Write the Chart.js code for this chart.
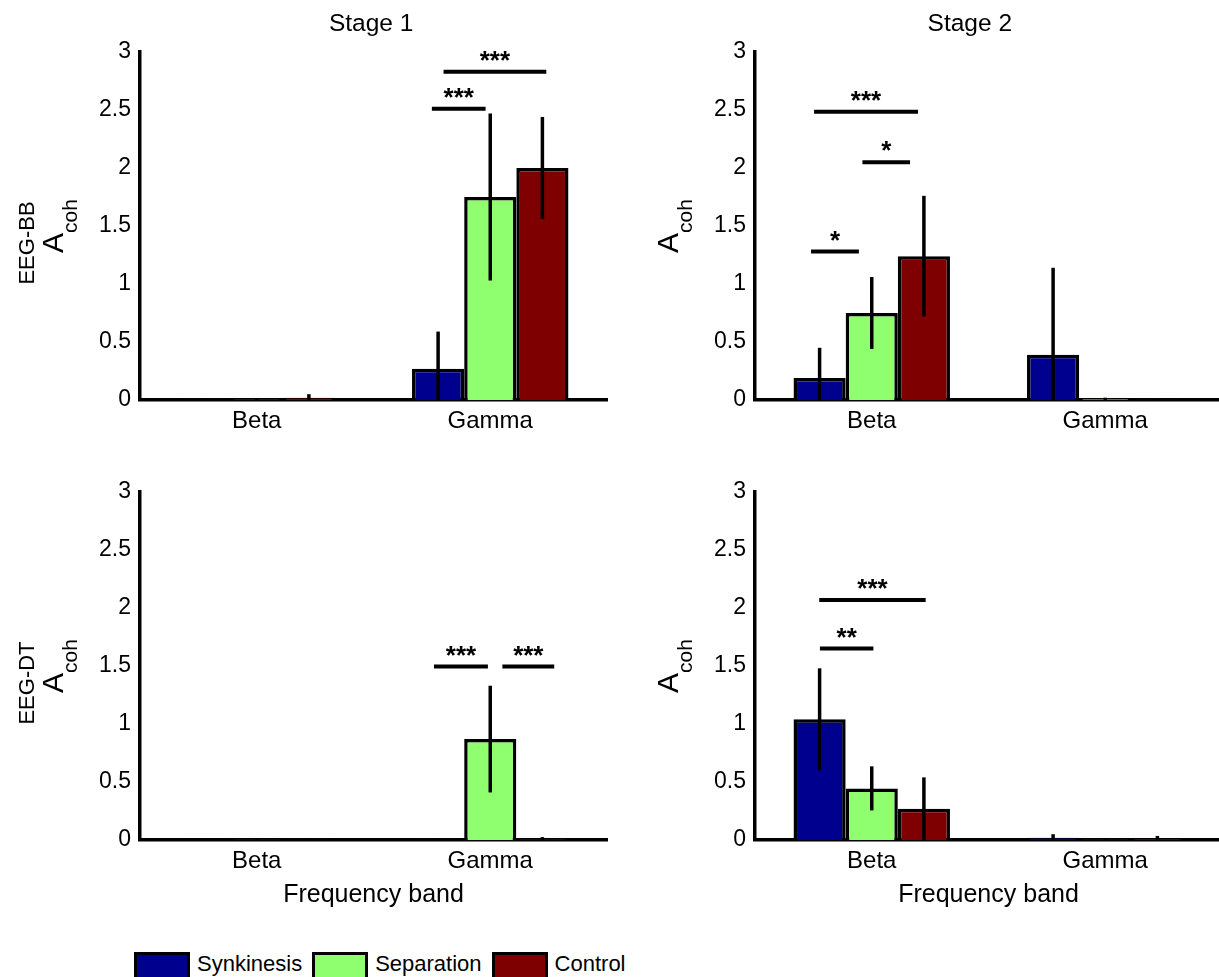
<!DOCTYPE html>
<html>
<head>
<meta charset="utf-8">
<title>Acoh by frequency band</title>
<script src="https://cdn.jsdelivr.net/npm/chart.js@4.4.1/dist/chart.umd.min.js"></script>
<style>
  html, body { margin: 0; padding: 0; background: #fff; }
  #page { position: relative; width: 1219px; height: 977px; overflow: hidden; font-family: 'Liberation Sans', Arial, sans-serif; }
  #page canvas { position: absolute; }
  #legend { position: absolute; left: 134px; top: 952px; display: flex; align-items: flex-start; }
  #legend .box { width: 50px; height: 26px; border: 3px solid #000; }
  #legend .txt { font-size: 22px; line-height: 22px; margin: 1px 10px 0 7px; color: #000; }
</style>
</head>
<body>
<div id="page">
  <canvas id="c1" width="620" height="470" style="left:0;top:0"></canvas>
  <canvas id="c2" width="620" height="470" style="left:615px;top:0"></canvas>
  <canvas id="c3" width="620" height="470" style="left:0;top:440px"></canvas>
  <canvas id="c4" width="620" height="470" style="left:615px;top:440px"></canvas>
  <div id="legend"></div>
</div>
<script>
const FONT = "'Liberation Sans', Arial, sans-serif";

const categories = ['Beta', 'Gamma'];
const groupNames = ['Synkinesis', 'Separation', 'Control'];
const groupColors = ['#00008f', '#8fff70', '#7f0000'];
const yTickValues = [0, 0.5, 1, 1.5, 2, 2.5, 3];

// Stage 1, EEG-BB
const s1bbSynkinesis = [0.005, 0.27];
const s1bbSeparation = [0.005, 1.75];
const s1bbControl = [0.02, 2.00];
const s1bbSynkinesisErr = [0.005, 0.32];
const s1bbSeparationErr = [0.005, 0.72];
const s1bbControlErr = [0.03, 0.44];
// [from, to, height, stars] - from/to in category units
const s1bbSig = [[0.75, 0.98, 2.51, '***'], [0.80, 1.24, 2.83, '***']];

// Stage 2, EEG-BB
const s2bbSynkinesis = [0.19, 0.39];
const s2bbSeparation = [0.75, 0.01];
const s2bbControl = [1.24, 0.005];
const s2bbSynkinesisErr = [0.26, 0.75];
const s2bbSeparationErr = [0.31, 0.01];
const s2bbControlErr = [0.52, 0.005];
const s2bbSig = [[-0.26, -0.055, 1.28, '*'], [-0.04, 0.164, 2.05, '*'], [-0.247, 0.198, 2.485, '***']];

// Stage 1, EEG-DT
const s1dtSynkinesis = [0.003, 0.005];
const s1dtSeparation = [0.003, 0.87];
const s1dtControl = [0.003, 0.01];
const s1dtSynkinesisErr = [0.003, 0.005];
const s1dtSeparationErr = [0.012, 0.46];
const s1dtControlErr = [0.003, 0.015];
const s1dtSig = [[0.759, 0.99, 1.495, '***'], [1.052, 1.274, 1.495, '***']];

// Stage 2, EEG-DT
const s2dtSynkinesis = [1.04, 0.02];
const s2dtSeparation = [0.445, 0.003];
const s2dtControl = [0.27, 0.015];
const s2dtSynkinesisErr = [0.44, 0.03];
const s2dtSeparationErr = [0.19, 0.003];
const s2dtControlErr = [0.27, 0.02];
const s2dtSig = [[-0.222, 0.007, 1.65, '**'], [-0.225, 0.231, 2.07, '***']];

const panels = [
  { id: 'c1', title: 'Stage 1', titleAt: 0.49, row: 'EEG-BB', xTitle: false,
    means: [s1bbSynkinesis, s1bbSeparation, s1bbControl],
    errs: [s1bbSynkinesisErr, s1bbSeparationErr, s1bbControlErr], sig: s1bbSig },
  { id: 'c2', title: 'Stage 2', titleAt: 0.42, row: null, xTitle: false,
    means: [s2bbSynkinesis, s2bbSeparation, s2bbControl],
    errs: [s2bbSynkinesisErr, s2bbSeparationErr, s2bbControlErr], sig: s2bbSig },
  { id: 'c3', title: null, row: 'EEG-DT', xTitle: true,
    means: [s1dtSynkinesis, s1dtSeparation, s1dtControl],
    errs: [s1dtSynkinesisErr, s1dtSeparationErr, s1dtControlErr], sig: s1dtSig },
  { id: 'c4', title: null, row: null, xTitle: true,
    means: [s2dtSynkinesis, s2dtSeparation, s2dtControl],
    errs: [s2dtSynkinesisErr, s2dtSeparationErr, s2dtControlErr], sig: s2dtSig }
];

// error bars, significance bars and the extra labels
function makeExtras(p) {
  return {
    id: 'extras',
    afterDatasetsDraw(chart) {
      const { ctx, chartArea: a, scales: { x, y } } = chart;
      ctx.save();
      ctx.beginPath();
      ctx.rect(a.left, 0, a.right - a.left, a.bottom);
      ctx.clip();
      ctx.strokeStyle = '#000';
      ctx.lineWidth = 3.5;
      p.errs.forEach((errs, i) => {
        const meta = chart.getDatasetMeta(i);
        errs.forEach((e, j) => {
          const v = p.means[i][j];
          const bx = meta.data[j].x;
          ctx.beginPath();
          ctx.moveTo(bx, Math.min(y.getPixelForValue(v - e), a.bottom));
          ctx.lineTo(bx, y.getPixelForValue(v + e));
          ctx.stroke();
        });
      });
      ctx.restore();

      ctx.save();
      ctx.strokeStyle = '#000';
      ctx.fillStyle = '#000';
      ctx.lineWidth = 4;
      ctx.textAlign = 'center';
      ctx.textBaseline = 'alphabetic';
      ctx.font = 'bold 26px ' + FONT;
      p.sig.forEach(([from, to, val, stars]) => {
        const x1 = x.getPixelForValue(from);
        const x2 = x.getPixelForValue(to);
        const py = y.getPixelForValue(val);
        ctx.beginPath();
        ctx.moveTo(x1, py);
        ctx.lineTo(x2, py);
        ctx.stroke();
        ctx.fillText(stars, (x1 + x2) / 2, py - 3);
      });
      ctx.restore();
    },
    afterDraw(chart) {
      const { ctx, chartArea: a, scales: { x } } = chart;
      const cy = (a.top + a.bottom) / 2;
      ctx.save();
      ctx.fillStyle = '#000';
      // y label: A with subscript coh
      ctx.save();
      ctx.translate(a.left - 77, cy);
      ctx.rotate(-Math.PI / 2);
      ctx.textAlign = 'left';
      ctx.textBaseline = 'alphabetic';
      ctx.font = '30px ' + FONT;
      const wA = ctx.measureText('A').width;
      ctx.font = '21px ' + FONT;
      const wS = ctx.measureText('coh').width;
      const sx = -(wA + wS) / 2;
      ctx.font = '30px ' + FONT;
      ctx.fillText('A', sx, 0);
      ctx.font = '21px ' + FONT;
      ctx.fillText('coh', sx + wA, 14);
      ctx.restore();
      // row label
      if (p.row) {
        ctx.save();
        ctx.translate(a.left - 106, cy + 17);
        ctx.rotate(-Math.PI / 2);
        ctx.textAlign = 'center';
        ctx.textBaseline = 'alphabetic';
        ctx.font = '22px ' + FONT;
        ctx.fillText(p.row, 0, 0);
        ctx.restore();
      }
      // column title
      if (p.title) {
        ctx.textAlign = 'center';
        ctx.textBaseline = 'alphabetic';
        ctx.font = '24.5px ' + FONT;
        ctx.fillText(p.title, x.getPixelForValue(p.titleAt), 31);
      }
      ctx.restore();
    }
  };
}

panels.forEach(p => {
  new Chart(document.getElementById(p.id), {
    type: 'bar',
    data: {
      labels: categories,
      datasets: groupNames.map((name, i) => ({
        label: name,
        data: p.means[i],
        backgroundColor: groupColors[i],
        borderColor: '#000',
        borderWidth: 3.5,
        categoryPercentage: 0.67,
        barPercentage: 1.0
      }))
    },
    options: {
      responsive: false,
      animation: false,
      layout: { padding: { left: 0, right: 13, top: 52, bottom: 0 } },
      plugins: { legend: { display: false }, tooltip: { enabled: false } },
      scales: {
        x: {
          grid: { display: false, drawTicks: false },
          border: { display: true, color: '#000', width: 3.5 },
          ticks: { color: '#000', padding: 7, font: { family: FONT, size: 24 } },
          title: { display: p.xTitle, text: 'Frequency band', color: '#000',
                   font: { family: FONT, size: 25 }, padding: { top: 0, bottom: 0 } },
          afterFit: s => { s.height = 70; }
        },
        y: {
          min: 0,
          max: 3,
          grid: { display: false, drawTicks: false },
          border: { display: true, color: '#000', width: 3.5 },
          ticks: { color: '#000', padding: 9, font: { family: FONT, size: 23 },
                   callback: v => String(v) },
          afterBuildTicks: s => { s.ticks = yTickValues.map(v => ({ value: v })); },
          afterFit: s => { s.width = 140; }
        }
      }
    },
    plugins: [makeExtras(p)]
  });
});

const legend = document.getElementById('legend');
groupNames.forEach((name, i) => {
  const box = document.createElement('div');
  box.className = 'box';
  box.style.background = groupColors[i];
  const txt = document.createElement('div');
  txt.className = 'txt';
  txt.textContent = name;
  legend.appendChild(box);
  legend.appendChild(txt);
});
</script>
</body>
</html>
